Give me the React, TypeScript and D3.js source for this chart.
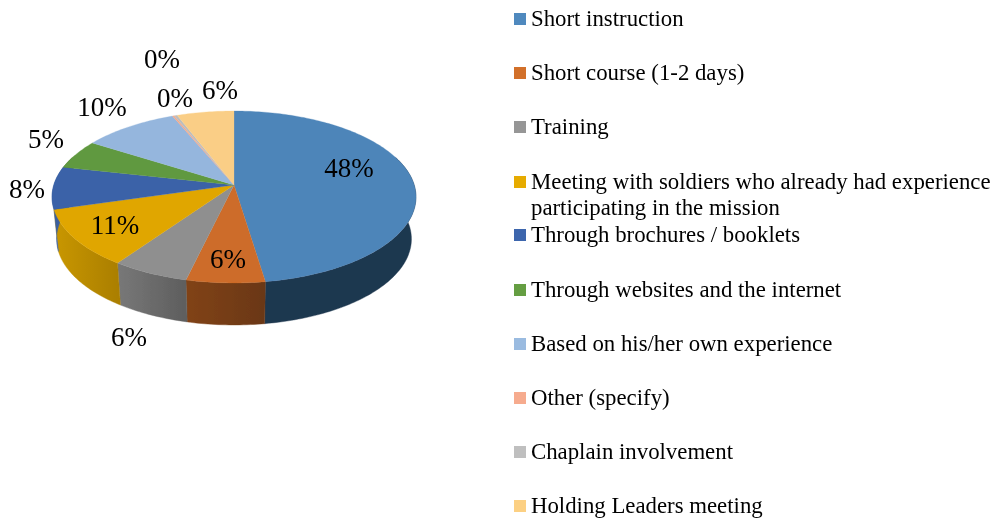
import React from "react";
import * as d3 from "d3";

const categories = [
  "Short instruction",
  "Short course (1-2 days)",
  "Training",
  "Meeting with soldiers who already had experience|participating in the mission",
  "Through brochures / booklets",
  "Through websites and the internet",
  "Based on his/her own experience",
  "Other (specify)",
  "Chaplain involvement",
  "Holding Leaders meeting",
];
const values = [47.6, 6.1, 6.0, 10.8, 8.0, 5.5, 9.7, 0.2, 0.3, 5.8];
const valueLabels = ["48%", "6%", "6%", "11%", "8%", "5%", "10%", "0%", "0%", "6%"];
const topColors = ["#4e85b9", "#cd6c29", "#8f8f8f", "#e0a600", "#3a62a8", "#60993f", "#95b6dd", "#f4a98b", "#bdbdbd", "#face86"];
const legendColors = ["#5089be", "#d2702c", "#969696", "#e6ab00", "#3e66ad", "#659e42", "#9abbe0", "#f6ab8e", "#bfbfbf", "#fcd083"];
const wallLeft = ["#26425e", "#814319", "#787878", "#c99700", "#3a5f9f", "#48732f", "#708aa8", "#b88069", "#8f8f8f", "#bc9b65"];
const wallRight = ["#1f374f", "#6a3715", "#5e5e5e", "#ab7f00", "#3a5f9f", "#48732f", "#708aa8", "#b88069", "#8f8f8f", "#bc9b65"];
const labelCentersX = [349, 228, 129, 115, 27, 46, 102, 175, 162, 220];
const labelBaselines = [177, 268, 346, 234, 198, 148, 116, 107, 68, 99];
const legendBaselines = [26, 80, 134, 188.5, 242, 297, 351, 405, 459, 513];

const W = 996, H = 518;
const cx = 234, cy = 185, tilt = 0.1395, radX = 180.2, radY = 84.3, depth = 42, bottomShrink = 0.975;

const project = (theta: number): [number, number] => {
  const c = -Math.cos(theta), s = Math.sin(theta), w = 1 - tilt * c;
  return [cx + (radX * s) / w, cy + (radY * c) / w];
};
const projectBottom = (theta: number): [number, number] => {
  const [x, y] = project(theta);
  return [cx + (x - cx) * bottomShrink, y + depth];
};
const samples = (a0: number, a1: number): number[] => {
  const n = Math.max(2, Math.ceil((a1 - a0) / (Math.PI / 180)) + 1);
  return d3.range(n).map((i) => a0 + ((a1 - a0) * i) / (n - 1));
};
const line = d3.line<[number, number]>().x((d) => d[0]).y((d) => d[1]);

export default function App() {
  const arcs = d3.pie<number>().sort(null).startAngle(0).endAngle(2 * Math.PI)(values);
  const wallMin = (70 * Math.PI) / 180, wallMax = (290 * Math.PI) / 180;
  return (
    <svg
      width={W}
      height={H}
      viewBox={`0 0 ${W} ${H}`}
      style={{ position: "absolute", left: 0, top: 0, background: "#fff" }}
      fontFamily="'Liberation Serif', serif"
    >
      <defs>
        <filter id="soft" x="-2%" y="-2%" width="104%" height="104%">
          <feGaussianBlur stdDeviation="0.45" />
        </filter>
        {arcs.map((a, i) => {
          const xs = [project(a.startAngle)[0], project(a.endAngle)[0]];
          return (
            <linearGradient
              key={i}
              id={`wall${i}`}
              gradientUnits="userSpaceOnUse"
              x1={d3.min(xs)}
              x2={d3.max(xs)! + 0.01}
              y1={0}
              y2={0}
            >
              <stop offset="0%" stopColor={wallLeft[i]} />
              <stop offset="100%" stopColor={wallRight[i]} />
            </linearGradient>
          );
        })}
      </defs>
      <g filter="url(#soft)">
        {arcs.map((a, i) => {
          const a0 = Math.max(a.startAngle, wallMin), a1 = Math.min(a.endAngle, wallMax);
          if (a1 <= a0) return null;
          const th = samples(a0, a1);
          const poly = [...th.map(project), ...th.slice().reverse().map(projectBottom)];
          return <path key={i} d={line(poly)! + "Z"} fill={`url(#wall${i})`} stroke={`url(#wall${i})`} strokeWidth={0.4} />;
        })}
        {arcs.map((a, i) => {
          const poly: [number, number][] = [[cx, cy], ...samples(a.startAngle, a.endAngle).map(project)];
          return <path key={i} d={line(poly)! + "Z"} fill={topColors[i]} stroke={topColors[i]} strokeWidth={0.3} />;
        })}
        {valueLabels.map((t, i) => (
          <text key={i} x={labelCentersX[i]} y={labelBaselines[i]} fontSize={27} textAnchor="middle" fill="#000">
            {t}
          </text>
        ))}
        {categories.map((c, i) => {
          const [first, second] = c.split("|");
          return (
            <g key={i}>
              <rect x={514} y={Math.round(legendBaselines[i]) - 13} width={12} height={12} fill={legendColors[i]} />
              <text x={531} y={legendBaselines[i]} fontSize={22.8} fill="#000">
                {first}
              </text>
              {second && (
                <text x={531} y={legendBaselines[i] + 26.5} fontSize={22.8} fill="#000">
                  {second}
                </text>
              )}
            </g>
          );
        })}
      </g>
    </svg>
  );
}
